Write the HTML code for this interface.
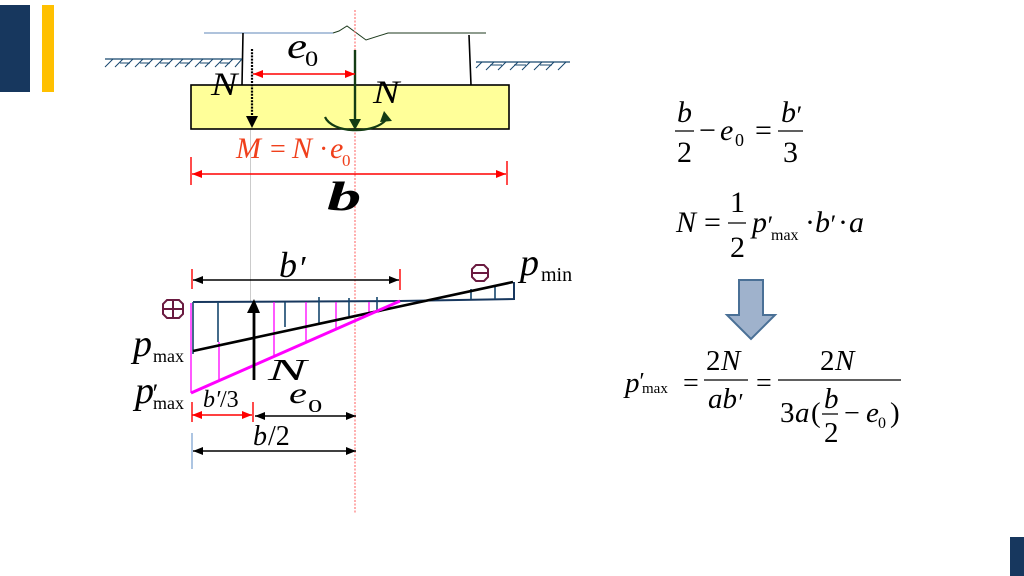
<!DOCTYPE html>
<html><head><meta charset="utf-8"><style>
html,body{margin:0;padding:0;background:#fff;width:1024px;height:576px;overflow:hidden}
svg{display:block}
text{font-family:"Liberation Serif",serif;fill:#000}
.i{font-style:italic}
.r{fill:#f0401c}
</style></head><body>
<svg width="1024" height="576" viewBox="0 0 1024 576" xmlns="http://www.w3.org/2000/svg">
<defs>
<marker id="ak" viewBox="0 0 10 8" refX="10" refY="4" markerWidth="12" markerHeight="8" markerUnits="userSpaceOnUse" orient="auto-start-reverse"><path d="M0 0L10 4L0 8Z" fill="#000"/></marker>
<marker id="ar" viewBox="0 0 10 8" refX="10" refY="4" markerWidth="12" markerHeight="8" markerUnits="userSpaceOnUse" orient="auto-start-reverse"><path d="M0 0L10 4L0 8Z" fill="#f00"/></marker>
</defs>
<rect width="1024" height="576" fill="#fff"/>
<rect x="0" y="5" width="30" height="87" fill="#17375e"/>
<rect x="42" y="5" width="12" height="87" fill="#ffc000"/>
<rect x="1010" y="537" width="14" height="39" fill="#17375e"/>

<!-- top structure -->
<rect x="191" y="85" width="318" height="44" fill="#ffff99" stroke="#000" stroke-width="1.6"/>
<path d="M204 33H333" stroke="#7f9fc6" stroke-width="1.2" fill="none"/>
<path d="M333 33L339 31L347 26L366 40L388 33H486" stroke="#1c3a1c" stroke-width="1" fill="none"/>
<path d="M243 33L242 85M469 35L471 85" stroke="#000" stroke-width="1.6" fill="none"/>
<path d="M105 59H242" stroke="#17476e" stroke-width="1.2"/>
<path d="M476 62H570" stroke="#17476e" stroke-width="1.2"/>
<path d="M105 67l8-8M115 67l8-8M120 63h10M125 67l8-8M135 67l8-8M140 63h10M145 67l8-8M155 67l8-8M160 63h10M165 67l8-8M175 67l8-8M180 63h10M185 67l8-8M195 67l8-8M200 63h10M205 67l8-8M215 67l8-8M220 63h10M225 67l8-8M235 67l7-8M476 68l6-6M486 70l8-8M490 65h12M498 70l8-8M510 70l8-8M514 65h12M522 70l8-8M534 70l8-8M540 65h12M546 70l8-8M558 70l8-8" stroke="#17476e" stroke-width="1" fill="none"/>

<!-- center lines -->
<path d="M355 10V513" stroke="#f77" stroke-width="1.2" stroke-dasharray="2 1.5"/>
<path d="M250.5 130V302" stroke="#b5b5b5" stroke-width=".7"/>

<!-- loads -->
<path d="M252 49V118" stroke="#000" stroke-width="2.2" stroke-dasharray="2 1.2"/>
<path d="M246 116H258L252 128Z" fill="#000"/>
<path d="M355 50V122" stroke="#143c14" stroke-width="2.4"/>
<path d="M349 119H361L355 130Z" fill="#143c14"/>
<path d="M325 117C332 133 372 135 386 120" stroke="#143c14" stroke-width="2.2" fill="none"/>
<path d="M384 111L392 121L380 122Z" fill="#143c14"/>
<path d="M253 74H355" stroke="#f00" stroke-width="1.6" marker-start="url(#ar)" marker-end="url(#ar)"/>
<path d="M191 157V185M507 161V185" stroke="#f00" stroke-width="1.4"/>
<path d="M192 174H506" stroke="#f00" stroke-width="1.4" marker-start="url(#ar)" marker-end="url(#ar)"/>

<text transform="translate(287 58) scale(1.25 1)" class="i" font-size="36">e</text>
<text transform="translate(305 66) scale(1.2 1)" font-size="22">0</text>
<text transform="translate(211 95) scale(1.2 1)" class="i" font-size="33">N</text>
<text transform="translate(373 103) scale(1.2 1)" class="i" font-size="33">N</text>
<text x="236" y="158" class="i r" font-size="30">M</text>
<text x="270" y="158" class="r" font-size="28">=</text>
<text x="292" y="158" class="i r" font-size="30">N</text>
<text x="319" y="158" class="r" font-size="28">·</text>
<text x="330" y="158" class="i r" font-size="30">e</text>
<text x="342" y="166" class="r" font-size="17">0</text>
<text transform="translate(327 210) scale(1.9 1.15)" class="i" font-size="36" font-weight="bold">b</text>

<!-- pressure diagram -->
<path d="M192 269V289M400 269V290" stroke="#f00" stroke-width="1.4"/>
<path d="M193 280H399" stroke="#000" stroke-width="1.4" marker-start="url(#ak)" marker-end="url(#ak)"/>
<path d="M193 302L400 301L514 299V282" stroke="#17375e" stroke-width="2" fill="none"/>
<path d="M193 302V354M218 302V342M285 302V327M319 297V323M349 298V316M377 297V310M471 289V299M495 286V299" stroke="#17476e" stroke-width="1.6" fill="none"/>
<path d="M191 303V393M219 342V381M274 302V356M306 302V341M336 302V328M369 302V312" stroke="#f0f" stroke-width="1.3" fill="none"/>
<path d="M193 351L513 282" stroke="#000" stroke-width="2.6"/>
<path d="M191 393L400 301" stroke="#f0f" stroke-width="3"/>
<path d="M254 380V310" stroke="#000" stroke-width="2.8"/>
<path d="M247 313L254 299L260 313Z" fill="#000"/>

<!-- plus/minus -->
<g fill="none" stroke="#6a1a40" stroke-width="2">
<path d="M167 300H179L183 304V314L179 318H167L163 314V304Z"/><path d="M163 309H183M173 300V318"/>
<path d="M476 265H484L488 269V277L484 281H476L472 277V269Z"/><path d="M472 273H488"/>
</g>

<text x="520" y="275" class="i" font-size="38">p</text>
<text x="541" y="281" font-size="20">min</text>
<text x="279" y="277" class="i" font-size="36">b</text>
<text x="298" y="279" class="i" font-size="34">′</text>
<text x="133" y="356" class="i" font-size="38">p</text>
<text x="153" y="362" font-size="18">max</text>
<text x="135" y="403" class="i" font-size="38">p</text>
<text x="151" y="402" class="i" font-size="26">′</text>
<text x="153" y="409" font-size="18">max</text>
<text transform="translate(268 380) scale(1.6 .85)" class="i" font-size="36">N</text>
<text transform="translate(289 403) scale(1.35 1)" class="i" font-size="30">e</text>
<text transform="translate(308 412) scale(1.3 .8)" font-size="22">0</text>
<text x="203" y="407" class="i" font-size="24">b′</text>
<text x="220" y="407" font-size="24">/3</text>
<text x="253" y="445" class="i" font-size="28">b</text>
<text x="268" y="445" font-size="28">/2</text>

<path d="M192 402V422M253 402V422" stroke="#f00" stroke-width="1.4"/>
<path d="M192 415H252" stroke="#f00" stroke-width="1.6" marker-start="url(#ar)" marker-end="url(#ar)"/>
<path d="M255 416H356" stroke="#000" stroke-width="1.4" marker-start="url(#ak)" marker-end="url(#ak)"/>
<path d="M192 433V469" stroke="#5b8bc5" stroke-width="1"/>
<path d="M193 451H356" stroke="#000" stroke-width="1.4" marker-start="url(#ak)" marker-end="url(#ak)"/>

<!-- formula 1 -->
<text x="677" y="122" class="i" font-size="30">b</text>
<path d="M675 131H694M778 131H803" stroke="#000" stroke-width="1.2"/>
<text x="677" y="162" font-size="30">2</text>
<text x="699" y="140" font-size="30">−</text>
<text x="720" y="140" class="i" font-size="30">e</text>
<text x="735" y="146" font-size="18">0</text>
<text x="755" y="140" font-size="30">=</text>
<text x="781" y="122" class="i" font-size="30">b</text>
<text x="795" y="124" class="i" font-size="26">′</text>
<text x="783" y="162" font-size="30">3</text>

<!-- formula 2 -->
<text x="676" y="232" class="i" font-size="30">N</text>
<text x="704" y="232" font-size="30">=</text>
<text x="730" y="212" font-size="30">1</text>
<path d="M728 223H746" stroke="#000" stroke-width="1.2"/>
<text x="730" y="257" font-size="30">2</text>
<text x="752" y="232" class="i" font-size="30">p</text>
<text x="766" y="234" class="i" font-size="26">′</text>
<text x="771" y="240" font-size="16">max</text>
<text x="805" y="232" font-size="30">·</text>
<text x="815" y="232" class="i" font-size="30">b</text>
<text x="829" y="233" class="i" font-size="26">′</text>
<text x="838" y="232" font-size="30">·</text>
<text x="849" y="232" class="i" font-size="30">a</text>

<!-- block arrow -->
<path d="M739 280H763V315H775L751 339L727 315H739Z" fill="#9fb2cc" stroke="#4a7096" stroke-width="2"/>

<!-- formula 3 -->
<text x="625" y="392" class="i" font-size="29">p</text>
<text x="638" y="389" class="i" font-size="24">′</text>
<text x="642" y="393" font-size="15">max</text>
<text x="683" y="392" font-size="28">=</text>
<text x="706" y="370" font-size="29">2</text>
<text x="721" y="370" class="i" font-size="29">N</text>
<path d="M704 380H748M778 380H901M822 414H838" stroke="#000" stroke-width="1.2"/>
<text x="708" y="408" class="i" font-size="29">ab</text>
<text x="737" y="410" class="i" font-size="24">′</text>
<text x="756" y="392" font-size="28">=</text>
<text x="820" y="370" font-size="29">2</text>
<text x="835" y="370" class="i" font-size="29">N</text>
<text x="780" y="422" font-size="29">3</text>
<text x="795" y="422" class="i" font-size="29">a</text>
<text x="811" y="422" font-size="29">(</text>
<text x="824" y="408" class="i" font-size="29">b</text>
<text x="824" y="442" font-size="29">2</text>
<text x="844" y="422" font-size="28">−</text>
<text x="866" y="422" class="i" font-size="29">e</text>
<text x="878" y="428" font-size="16">0</text>
<text x="890" y="422" font-size="29">)</text>
</svg>
</body></html>
